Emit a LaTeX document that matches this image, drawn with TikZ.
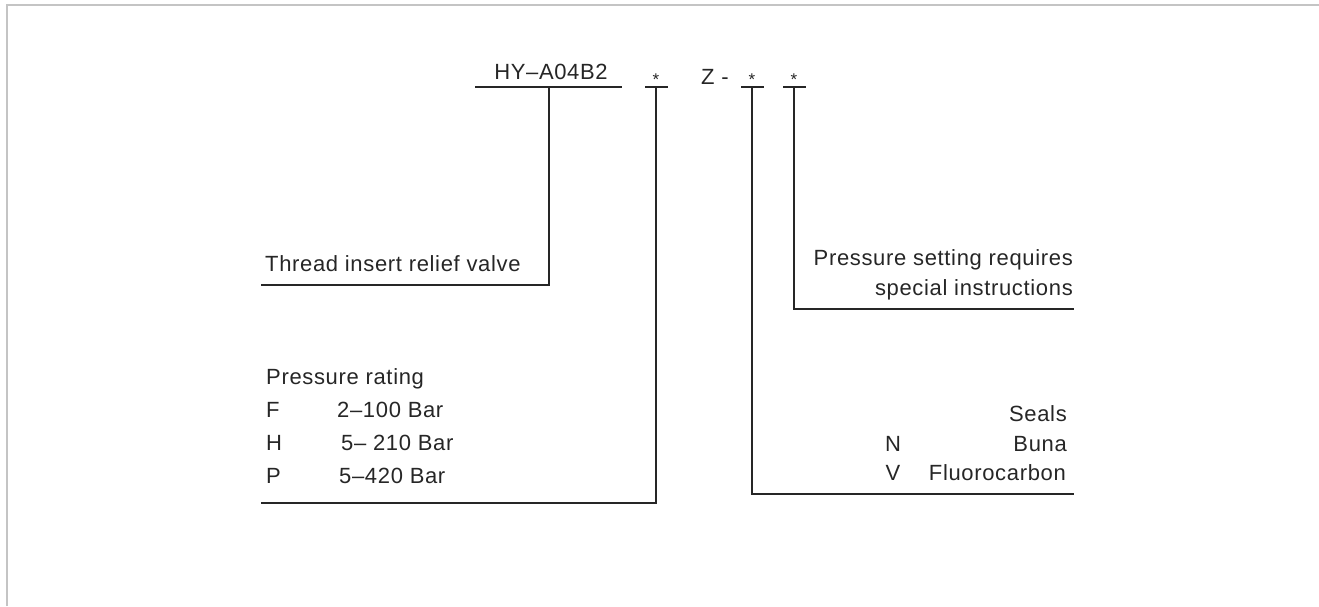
\documentclass[tikz,border=0pt]{standalone}
\usepackage{fontspec}
\newfontfamily\lab{Liberation Sans}[LetterSpace=3]
\definecolor{ink}{HTML}{262626}
\definecolor{frame}{HTML}{C4C4C4}
\begin{document}
\begin{tikzpicture}[x=1pt,y=-1pt,
  txt/.style={inner sep=0pt,font=\lab\fontsize{22}{26}\selectfont,text=ink},
  star/.style={inner sep=0pt,font=\lab\fontsize{17}{20}\selectfont,text=ink,anchor=base},
  wire/.style={draw=ink,line width=1.3pt},
  border/.style={draw=frame,line width=2pt}]
\useasboundingbox (0,0) rectangle (1319,606);
% frame
\coordinate (fL) at (7,606);
\coordinate (fC) at (7,5);
\coordinate (fR) at (1319,5);
\draw[border] (fL) -- (fC) -- (fR);
% header
\node[txt,anchor=base] (code) at (551,79) {HY–A04B2};
\node[star] (s1) at (656,85) {*};
\node[txt,anchor=base west] (z) at (701,84) {Z -};
\node[star] (s2) at (752,85) {*};
\node[star] (s3) at (794,85) {*};
% T-bar coordinates
\coordinate (b1a) at (475,87); \coordinate (b1b) at (622,87); \coordinate (b1m) at (549,87);
\coordinate (b2a) at (645,87); \coordinate (b2b) at (668,87); \coordinate (b2m) at (656,87);
\coordinate (b3a) at (741,87); \coordinate (b3b) at (764,87); \coordinate (b3m) at (752,87);
\coordinate (b4a) at (783,87); \coordinate (b4b) at (806,87); \coordinate (b4m) at (794,87);
\coordinate (c1) at (549,285); \coordinate (e1) at (261,285);
\coordinate (c2) at (656,503); \coordinate (e2) at (261,503);
\coordinate (c3) at (752,494); \coordinate (e3) at (1074,494);
\coordinate (c4) at (794,309); \coordinate (e4) at (1074,309);
\draw[wire] (b1a) -- (b1b);
\draw[wire] (b2a) -- (b2b);
\draw[wire] (b3a) -- (b3b);
\draw[wire] (b4a) -- (b4b);
\draw[wire] (b1m) -- (c1) -- (e1);
\draw[wire] (b2m) -- (c2) -- (e2);
\draw[wire] (b3m) -- (c3) -- (e3);
\draw[wire] (b4m) -- (c4) -- (e4);
% labels
\node[txt,anchor=base west] (thread) at (265,271) {Thread insert relief valve};
\node[txt,anchor=base east] (ps1) at (1073,265) {Pressure setting requires};
\node[txt,anchor=base east] (ps2) at (1073,295) {special instructions};
\node[txt,anchor=base west] (pr) at (266,384) {Pressure rating};
\node[txt,anchor=base west] (pF) at (266,417) {F};
\node[txt,anchor=base west] (pH) at (266,450) {H};
\node[txt,anchor=base west] (pP) at (266,483) {P};
\node[txt,anchor=base west] (vF) at (337,417) {2–100 Bar};
\node[txt,anchor=base west] (vH) at (341,450) {5– 210 Bar};
\node[txt,anchor=base west] (vP) at (339,483) {5–420 Bar};
\node[txt,anchor=base east] (seals) at (1067,421) {Seals};
\node[txt,anchor=base] (sN) at (893,451) {N};
\node[txt,anchor=base east] (buna) at (1067,451) {Buna};
\node[txt,anchor=base] (sV) at (893,480) {V};
\node[txt,anchor=base east] (fluoro) at (1066,480) {Fluorocarbon};
\end{tikzpicture}
\end{document}
